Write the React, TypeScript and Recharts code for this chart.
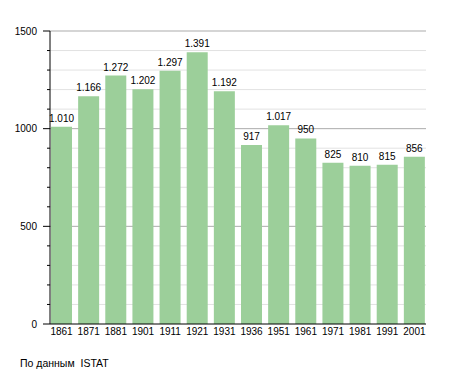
import React from "react";
import {
  BarChart,
  Bar,
  XAxis,
  YAxis,
  CartesianGrid,
  LabelList,
} from "recharts";

// anni del censimento e abitanti
const years = [
  "1861", "1871", "1881", "1901", "1911", "1921", "1931",
  "1936", "1951", "1961", "1971", "1981", "1991", "2001",
];
const population = [
  1010, 1166, 1272, 1202, 1297, 1391, 1192,
  917, 1017, 950, 825, 810, 815, 856,
];
const yTicks = [0, 100, 200, 300, 400, 500, 600, 700, 800, 900, 1000, 1100, 1200, 1300, 1400, 1500];
const yMajor = [0, 500, 1000, 1500];
const yMinorGrid = [100, 200, 300, 400, 600, 700, 800, 900, 1100, 1200, 1300, 1400];
const yMajorGrid = [500, 1000, 1500];
const source = "По данным  ISTAT";

const data = years.map((y, i) => ({ year: y, value: population[i] }));

const FONT = "'Liberation Sans', Arial, sans-serif";

// numero con il punto come separatore delle migliaia
const fmt = (v: any) => String(v).replace(/\B(?=(\d{3})+(?!\d))/g, ".");

const YTick = (props: any) => {
  const { x, y, payload } = props;
  const major = yMajor.includes(payload.value);
  return (
    <g>
      <line x1={x - (major ? 7 : 3)} x2={x} y1={y} y2={y} stroke="#000" />
      {major && (
        <text
          x={x - 13}
          y={y}
          dy={3.5}
          textAnchor="end"
          fontSize={10}
          fontFamily={FONT}
          fill="#000"
        >
          {payload.value}
        </text>
      )}
    </g>
  );
};

export default function App() {
  return (
    <div style={{ position: "absolute", left: 0, top: 0, width: 455, height: 373 }}>
      <BarChart
        width={455}
        height={373}
        data={data}
        margin={{ top: 31, right: 29, left: 0, bottom: 29 }}
      >
        <CartesianGrid
          horizontal={true}
          vertical={false}
          horizontalValues={yMinorGrid}
          stroke="#e2e2e2"
        />
        <CartesianGrid
          horizontal={true}
          vertical={false}
          horizontalValues={yMajorGrid}
          stroke="#ababab"
        />
        <XAxis
          dataKey="year"
          padding={{ left: -2, right: -2 }}
          axisLine={{ stroke: "#000" }}
          tickLine={false}
          tickSize={2}
          tickMargin={2}
          interval={0}
          height={20}
          tick={{ fontSize: 10, fontFamily: FONT, fill: "#000" }}
        />
        <YAxis
          width={50}
          domain={[0, 1500]}
          ticks={yTicks}
          interval={0}
          axisLine={{ stroke: "#000" }}
          tickLine={false}
          tickSize={0}
          tickMargin={0}
          tick={<YTick />}
        />
        <Bar
          dataKey="value"
          fill="#9ccf9a"
          barSize={21}
          isAnimationActive={false}
        >
          <LabelList
            dataKey="value"
            position="top"
            offset={5}
            formatter={fmt}
            style={{ fontSize: 10, fontFamily: FONT, fill: "#000" }}
          />
        </Bar>
      </BarChart>
      <div
        style={{
          position: "absolute",
          left: 20,
          top: 357,
          fontSize: 10.5,
          fontFamily: FONT,
          color: "#000",
          whiteSpace: "pre",
        }}
      >
        {source}
      </div>
    </div>
  );
}
